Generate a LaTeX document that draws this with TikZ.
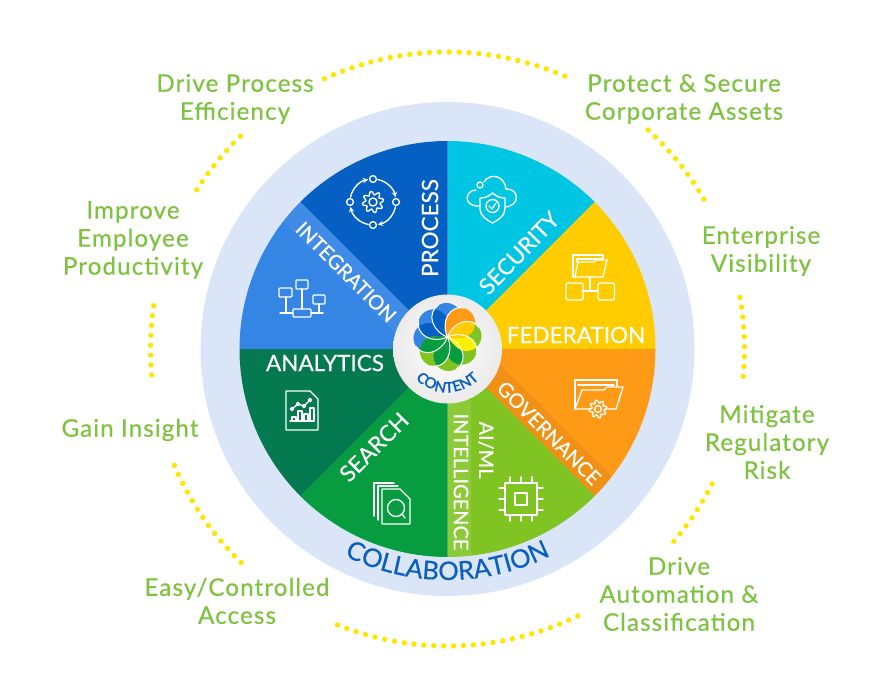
\documentclass[tikz,border=0pt]{standalone}
\usepackage{fontspec}
\setmainfont{Lato}
\newfontfamily\goalfont[FakeBold=0.45, LetterSpace=4.5]{Lato}
\newfontfamily\wordfont[FakeBold=0.5]{Lato}
\usetikzlibrary{decorations.text}
\definecolor{goalgreen}{HTML}{7DC33F}
\definecolor{dotyellow}{HTML}{FFE600}
\definecolor{ringblue}{HTML}{DAE6F8}
\definecolor{wordblue}{HTML}{0B5FBF}
\definecolor{processblue}{HTML}{0660C4}
\definecolor{securitycyan}{HTML}{00C5E3}
\definecolor{fedyellow}{HTML}{FFCC00}
\definecolor{govorange}{HTML}{FF9A17}
\definecolor{aigreen}{HTML}{80C424}
\definecolor{searchgreen}{HTML}{069C3F}
\definecolor{analyticsgreen}{HTML}{057A50}
\definecolor{integrationblue}{HTML}{3585E4}
\tikzset{
	goal/.style={text=goalgreen, align=center, font=\goalfont\fontsize{24.2}{28}\selectfont},
	sector/.style={text=white, font=\wordfont\fontsize{22.5}{26}\selectfont},
	smallsector/.style={sector, font=\wordfont\fontsize{20}{24}\selectfont},
	dotarc/.style={dotyellow, line width=5.4, line cap=round, dash pattern=on 0pt off 9.9pt},
	icon/.style={white, line width=1.35, line cap=round, line join=round}
}
\newcommand{\gearicon}[3]{%
	\draw[icon] plot[domain=0:360, samples=73, variable=\x] ({#1+#3*(1+0.2*sin(8*\x))*cos(\x)}, {#2+#3*(1+0.2*sin(8*\x))*sin(\x)}) -- cycle;
	\draw[icon] (#1,#2) circle ({#3*0.45});
}
\newcommand{\petalpath}{(0,0) .. controls (-16,6) and (-21,24) .. (-9,32) .. controls (2,38) and (14,30) .. (14,19) .. controls (14,10) and (5,4) .. (0,0) -- cycle}
\begin{document}
\begin{tikzpicture}[x=1pt, y=1pt, line cap=round, line join=round]
	\useasboundingbox (0,0) rectangle (886,-676);
	\coordinate (hub) at (447.5,-349);
	\fill[ringblue] (hub) circle (247);
	% wheel
	\foreach \start/\stop/\col in {45/90/securitycyan, 0/45/fedyellow, -45/0/govorange, -90/-45/aigreen, -135/-90/searchgreen, 180/225/analyticsgreen, 135/180/integrationblue, 90/135/processblue}
		\fill[\col] (hub) -- +(\start:208) arc (\start:\stop:208) -- cycle;
	% label strips
	\begin{scope}
	\clip (hub) circle (208);
	\fill[white, opacity=0.05, rotate around={135:(hub)}] (497,-349) rectangle (660,-323);
	\fill[black!40!govorange, opacity=0.14, rotate around={-45:(hub)}] (497,-349) rectangle (660,-323);
	\fill[white, opacity=0.1] (447.5,-400) rectangle (471,-560);
	\end{scope}
	% dotted arcs
	\foreach \start/\stop in {114.5/66.7, 47.5/29.2, 10/-5.6, -27/-42, -64/-112.8, -134/-157.7, -175/-189, 147.6/134}
		\draw[dotarc] (hub) ++(\start:297) arc (\start:\stop:297);
	% goals
	\node[goal] (process goal) at (235,-99) {Drive Process\\Efficiency};
	\node[goal] (secure goal) at (684,-99) {Protect \& Secure\\Corporate Assets};
	\node[goal] (visibility goal) at (761,-251) {Enterprise\\Visibility};
	\node[goal] (risk goal) at (767,-442) {Mitigate\\Regulatory\\Risk};
	\node[goal] (automation goal) at (679,-594) {Drive\\Automation \&\\Classification};
	\node[goal] (access goal) at (237,-601) {Easy/Controlled\\Access};
	\node[goal] (insight goal) at (130,-430) {Gain Insight};
	\node[goal] (employee goal) at (133,-240) {Improve\\Employee\\Productivity};
	% sector words
	\node[sector, rotate=90] (process) at (430,-228) {PROCESS};
	\node[sector, rotate=46] (security) at (519,-253) {SECURITY};
	\node[sector] (federation) at (576,-335) {FEDERATION};
	\node[smallsector, rotate=-45] (governance) at (549,-433) {GOVERNANCE};
	\node[smallsector, rotate=-90] (aiml) at (486,-450) {AI/ML};
	\node[smallsector, rotate=-90] (intelligence) at (461,-482) {INTELLIGENCE};
	\node[sector, rotate=45] (search) at (374,-447) {SEARCH};
	\node[sector] (analytics) at (325,-363) {ANALYTICS};
	\node[smallsector, rotate=-45] (integration) at (346,-272) {INTEGRATION};
	\path[decorate, decoration={text along path, text align=center, text={|\wordfont\fontsize{25.6}{28}\selectfont\color{wordblue}|COLLABORATION}}] (hub) ++(-125:231) arc (-125:-55:231);
	% process icon
	\gearicon{373}{-202}{9}
	\foreach \ang in {0,90,180,270} {
		\draw[icon] (373,-202) ++(\ang:23) circle (3.4);
		\draw[icon, ->, >=stealth] (373,-202) ++(\ang+78:23) arc (\ang+78:\ang+12:23);
	}
	% security icon
	\draw[icon] (480,-206) .. controls (462,-207) and (465,-190) .. (476,-190);
	\draw[icon] (484,-182) .. controls (490,-172) and (505,-176) .. (506,-189) .. controls (519,-188) and (521,-206) .. (505,-207);
	\draw[icon] (480,-185) circle (3);
	\draw[icon] (492.5,-193) .. controls (497,-197) and (501,-198) .. (505,-198) -- (505,-209) .. controls (505,-216) and (498,-220) .. (492.5,-223) .. controls (487,-220) and (480,-216) .. (480,-209) -- (480,-198) .. controls (484,-198) and (488,-197) .. (492.5,-193) -- cycle;
	\draw[icon] (492.5,-206) circle (6.5);
	\draw[icon] (489,-206) -- (492,-209) -- (496,-203);
	% federation icon
	\draw[icon] (575,-277) -- (573,-277) -- (573,-255) -- (603,-255) -- (603,-259);
	\draw[icon] (577,-262) -- (577,-259) -- (603,-259);
	\draw[icon] (575,-277) -- (578,-262) -- (594,-262) -- (596,-260) -- (607,-260) -- (603,-277) -- cycle;
	\draw[icon, rounded corners=1.5] (566,-283) rectangle (583,-300);
	\draw[icon, rounded corners=1.5] (598,-283) rectangle (614.5,-300);
	\draw[icon] (590,-277) -- (590,-291);
	\draw[icon] (583,-291) -- (598,-291);
	% governance icon
	\draw[icon] (575,-409) -- (575,-380) -- (617,-380) -- (617,-386);
	\draw[icon] (578,-385) -- (614,-385);
	\draw[icon] (590,-409) -- (575,-409) -- (582,-390) -- (604,-390) -- (607,-387) -- (623,-387) -- (616,-409) -- (606,-409);
	\gearicon{598}{-409}{7.5}
	% ai icon
	\draw[icon] (505,-483) rectangle (537,-515);
	\draw[icon] (515,-493) rectangle (527,-505);
	\foreach \off in {-11,0,11} {
		\draw[icon] (521+\off,-483) -- (521+\off,-477);
		\draw[icon] (521+\off,-515) -- (521+\off,-521);
		\draw[icon] (505,-499+\off) -- (499,-499+\off);
		\draw[icon] (537,-499+\off) -- (543,-499+\off);
	}
	% search icon
	\draw[icon] (374,-516) -- (374,-483) -- (394,-483);
	\draw[icon] (378,-520) -- (378,-486) -- (398,-486);
	\draw[icon] (382,-524) -- (382,-489) -- (400,-489) -- (410,-499) -- (410,-524) -- cycle;
	\draw[icon] (396,-508) circle (8.5);
	\draw[icon] (402,-514) -- (405,-518);
	% analytics icon
	\draw[icon] (286,-391) -- (310,-391) -- (318,-399) -- (318,-430) -- (286,-430) -- cycle;
	\draw[icon] (290,-421) -- (314,-421);
	\draw[icon] (292,-421) -- (292,-417) -- (296,-417) -- (296,-421);
	\draw[icon] (298,-421) -- (298,-411) -- (302,-411) -- (302,-421);
	\draw[icon] (304,-421) -- (304,-414) -- (308,-414) -- (308,-421);
	\draw[icon] (310,-421) -- (310,-408) -- (314,-408) -- (314,-421);
	\draw[icon] (292,-409) -- (298,-404) -- (304,-406) -- (310,-400);
	\foreach \px/\py in {292/409, 298/404, 304/406, 310/400}
		\draw[icon, fill=analyticsgreen] (\px,-\py) circle (1.6);
	% integration icon
	\draw[icon, rounded corners=1] (279,-288) rectangle (292,-297);
	\draw[icon, rounded corners=1] (296,-280) rectangle (308,-289);
	\draw[icon, rounded corners=1] (313,-295) rectangle (325,-304);
	\draw[icon, rounded corners=1] (293,-309) rectangle (311,-317);
	\draw[icon] (280,-313) -- (293,-313);
	\draw[icon] (311,-313) -- (323,-313);
	\draw[icon] (286,-297) -- (286,-313);
	\draw[icon] (302,-289) -- (302,-309);
	\draw[icon] (319,-304) -- (319,-313);
	% content badge
	\shade[inner color=white, outer color=black!8] (hub) circle (54.5);
	\begin{scope}[shift={(447.5,-337)}]
	\foreach \ang/\lightcol/\darkcol in {90/integrationblue/processblue, 135/integrationblue/processblue, 180/integrationblue/processblue, -135/aigreen/searchgreen, -90/aigreen/searchgreen, -45/aigreen/searchgreen, 0/aigreen/yellow, 45/govorange/fedyellow} {
		\begin{scope}[rotate=\ang-90]
		\fill[\lightcol] \petalpath;
		\begin{scope}
		\clip \petalpath;
		\fill[\darkcol, rotate=-45] \petalpath;
		\end{scope}
		\end{scope}
	}
	\foreach \ang in {0,45,...,315}
		\draw[white, line width=1, rotate=\ang] (0,0) .. controls (-16,6) and (-21,24) .. (-9,32);
	\end{scope}
	\path[decorate, decoration={text along path, text align=center, text={|\rmfamily\bfseries\fontsize{15}{17}\selectfont\color{wordblue}|CONTENT}}] (hub) ++(-155:44) arc (-155:-25:44);
\end{tikzpicture}
\end{document}
